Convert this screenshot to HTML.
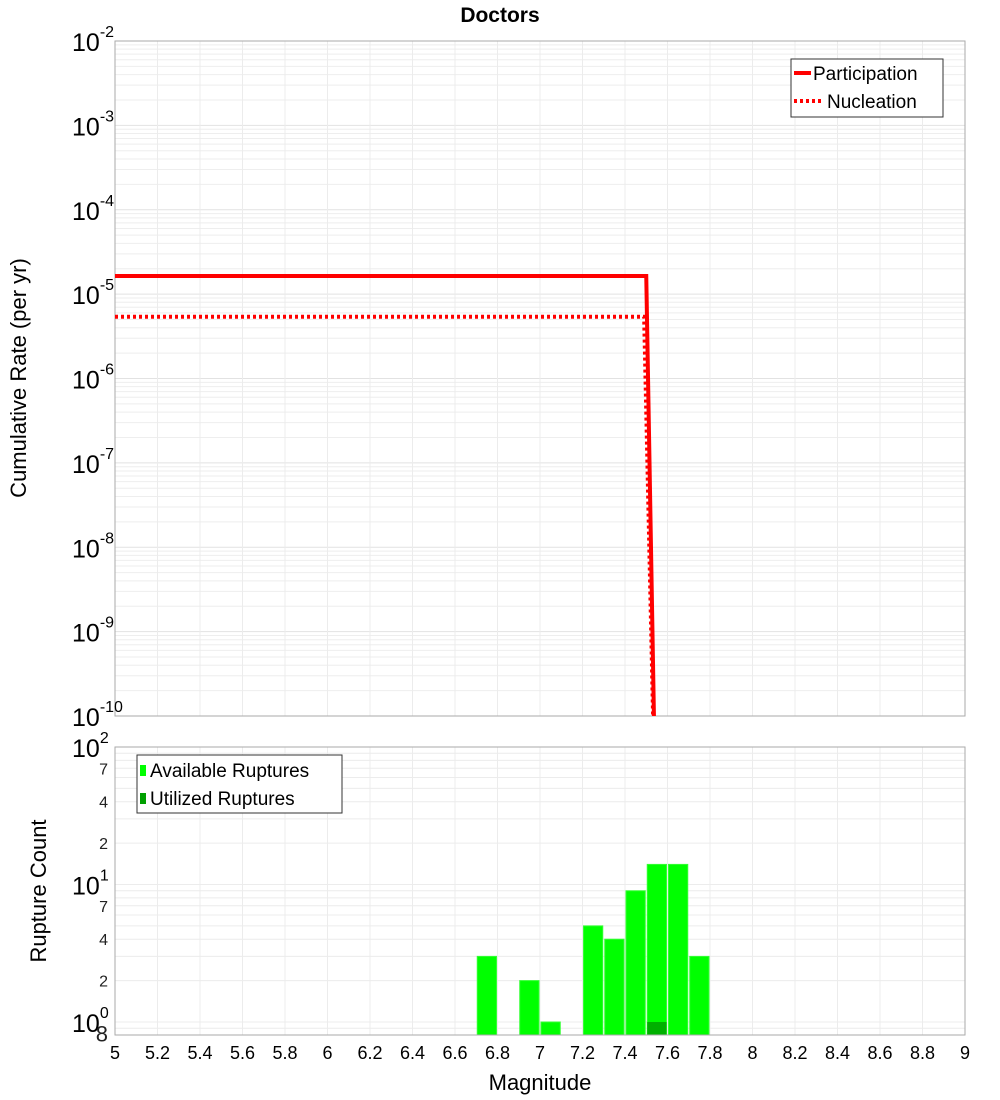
<!DOCTYPE html>
<html><head><meta charset="utf-8"><style>
body{margin:0;background:#fff;}
svg{display:block;font-family:"Liberation Sans","DejaVu Sans",sans-serif;}
</style></head><body>
<svg id="chart" width="1000" height="1100" xmlns="http://www.w3.org/2000/svg">
<text x="500" y="22" text-anchor="middle" font-size="21" font-weight="bold">Doctors</text>
<g id="topg"></g><g id="botg"></g>
<text transform="translate(26,378) rotate(-90)" text-anchor="middle" font-size="22">Cumulative Rate (per yr)</text>
<text transform="translate(46,891) rotate(-90)" text-anchor="middle" font-size="22">Rupture Count</text>
<text x="540" y="1090" text-anchor="middle" font-size="22">Magnitude</text>
</svg>
<script>
const partMags=[5.0,7.5,7.55];
const partRates=[1.64e-5,1.64e-5,1e-12];
const nuclMags=[5.0,7.49,7.55];
const nuclRates=[5.4e-6,5.4e-6,1e-12];
const binCenters=[6.75,6.95,7.05,7.25,7.35,7.45,7.55,7.65,7.75];
const availCounts=[3,2,1,5,4,9,14,14,3];
const usedCounts=[0,0,0,0,0,0,1,0,0];
const xTicks=[5,5.2,5.4,5.6,5.8,6,6.2,6.4,6.6,6.8,7,7.2,7.4,7.6,7.8,8,8.2,8.4,8.6,8.8,9];
const topExps=[-2,-3,-4,-5,-6,-7,-8,-9,-10];

const NS="http://www.w3.org/2000/svg";
const L=115,R=965;
const xs=m=>L+(m-5)/4*(R-L);
const T0=41,T1=716;
const yt=v=>T0+(-2-Math.log10(v))/8*(T1-T0);
const B0=747,B1=1035,BD=137.5;
const yb=v=>B0+(2-Math.log10(v))*BD;
function mk(p,tag,at,txt){const e=document.createElementNS(NS,tag);for(const k in at)e.setAttribute(k,at[k]);if(txt!==undefined)e.textContent=txt;p.appendChild(e);return e;}
const topG=document.getElementById('topg'),botG=document.getElementById('botg');
const svgEl=document.getElementById('chart');
const defs=mk(svgEl,'defs',{});
const c1=mk(defs,'clipPath',{id:'ct'});mk(c1,'rect',{x:L,y:T0,width:R-L,height:T1-T0});
const c2=mk(defs,'clipPath',{id:'cb'});mk(c2,'rect',{x:L,y:B0,width:R-L,height:B1-B0});
for(let e=-10;e<-2;e++)for(let k=1;k<10;k++){const y=yt(k*Math.pow(10,e));
 const g=mk(topG,'line',{x1:L,x2:R,y1:y,y2:y,stroke:k==1?'#e2e2e2':'#eeeeee','stroke-width':1});
 
 }
for(const m of xTicks){const g=mk(topG,'line',{x1:xs(m),x2:xs(m),y1:T0,y2:T1,stroke:'#ececec'});
 
 }
const tf=mk(topG,'rect',{x:L,y:T0,width:R-L,height:T1-T0,fill:'none',stroke:'#aaa'});


for(const e of topExps){const y=yt(Math.pow(10,e));
 const t=mk(topG,'text',{x:72,y:y+10,'font-size':25},'10');
 
 
 mk(t,'tspan',{dy:-14,'font-size':16},String(e));}
function path(p,ms,vs,dash,name){let d='';ms.forEach((m,i)=>{d+=(i?'L':'M')+xs(m)+','+yt(vs[i]);});
 const a={d:d,fill:'none',stroke:'#ff0000','stroke-width':4,'clip-path':'url(#ct)'};if(dash)a['stroke-dasharray']=dash;
 const e=mk(p,'path',a);
 
 }
path(topG,partMags,partRates,null,'participation-line');
path(topG,nuclMags,nuclRates,'3,3','nucleation-line');
const lg=mk(topG,'g',{});


mk(lg,'rect',{x:791,y:59,width:152,height:58,fill:'#fff',stroke:'#333'});
mk(lg,'line',{x1:794,x2:811,y1:73,y2:73,stroke:'#f00','stroke-width':4});
mk(lg,'text',{x:813,y:80,'font-size':19},'Participation');
mk(lg,'line',{x1:794,x2:822,y1:101,y2:101,stroke:'#f00','stroke-width':4,'stroke-dasharray':'3,3'});
mk(lg,'text',{x:827,y:108,'font-size':19},'Nucleation');
for(let e=-1;e<2;e++)for(let k=1;k<10;k++){const v=k*Math.pow(10,e);const y=yb(v);if(y>B1||y<B0)continue;
 const g=mk(botG,'line',{x1:L,x2:R,y1:y,y2:y,stroke:'#ececec'});
 
 }
for(const m of xTicks){const g=mk(botG,'line',{x1:xs(m),x2:xs(m),y1:B0,y2:B1,stroke:'#ececec'});
 
 }
const bw=0.1/4*(R-L);
binCenters.forEach((m,i)=>{
 const y=yb(availCounts[i]);
 const b=mk(botG,'rect',{x:xs(m)-bw/2+1,y:y,width:bw-2,height:B1-y,fill:'#00ff00',stroke:'#33ff33','clip-path':'url(#cb)'});
 
 
 if(usedCounts[i]>0){const y2=yb(usedCounts[i]);
  const u=mk(botG,'rect',{x:xs(m)-bw/2+1,y:y2,width:bw-2,height:B1-y2,fill:'#00b000','clip-path':'url(#cb)'});
  
  }
});
const bf=mk(botG,'rect',{x:L,y:B0,width:R-L,height:B1-B0,fill:'none',stroke:'#aaa'});


[[2,100],[1,10],[0,1]].forEach(([e,v])=>{const y=yb(v);
 const t=mk(botG,'text',{x:72,y:y+10,'font-size':25},'10');
 
 
 mk(t,'tspan',{dy:-14,'font-size':16},String(e));});
[7,4,2,70,40,20,0.8].forEach(v=>{const y=yb(v);
 const t=mk(botG,'text',{x:108,y:y+6,'font-size':v<1?22:16,'text-anchor':'end','fill':'#222'},String(v<1?8:(v>9?v/10:v)));
 
 });
xTicks.forEach(m=>{const t=mk(botG,'text',{x:xs(m),y:1059,'font-size':18,'text-anchor':'middle'},String(m));
 
 });
const lb=mk(botG,'g',{});


mk(lb,'rect',{x:137,y:755,width:205,height:58,fill:'#fff',stroke:'#333'});
mk(lb,'rect',{x:140,y:765,width:6,height:11,fill:'#00ff00'});
mk(lb,'text',{x:150,y:777,'font-size':19},'Available Ruptures');
mk(lb,'rect',{x:140,y:793,width:6,height:11,fill:'#00a000'});
mk(lb,'text',{x:150,y:805,'font-size':19},'Utilized Ruptures');
</script>
</body></html>
